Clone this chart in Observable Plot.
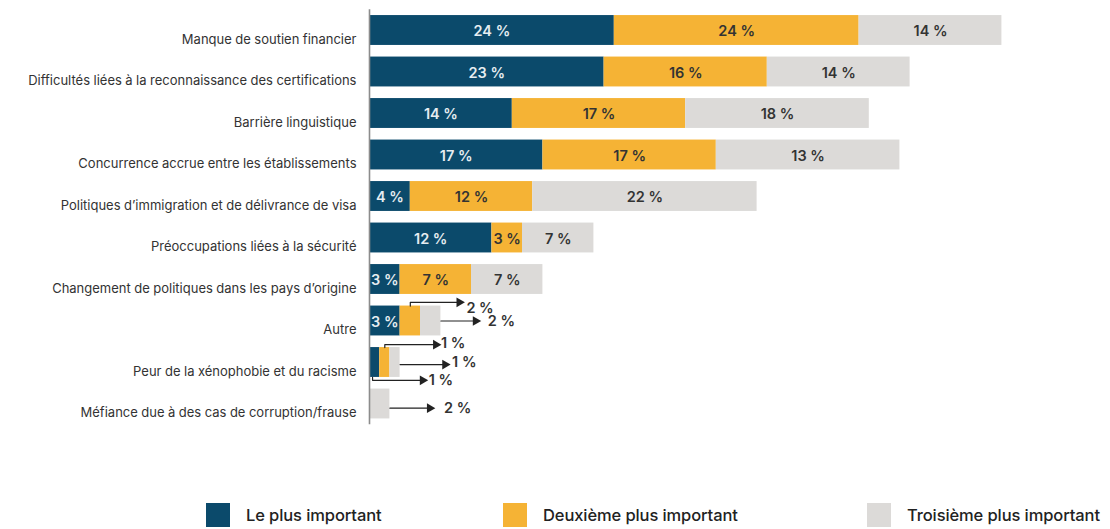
<!DOCTYPE html>
<html>
<head>
<meta charset="utf-8">
<script src="https://cdn.jsdelivr.net/npm/d3@7"></script>
<script src="https://cdn.jsdelivr.net/npm/@observablehq/plot@0.6"></script>
<style>
  html, body { margin: 0; padding: 0; background: #fff; }
  #wrap { position: relative; width: 1110px; height: 529px; overflow: hidden; font-family: Inter, "Noto Sans", sans-serif; }
  #legend { position: absolute; left: 0; top: 0; width: 1110px; height: 529px; pointer-events: none; }
  .item { position: absolute; top: 503px; height: 24px; display: flex; align-items: center; }
  .sw { width: 24px; height: 24px; margin-right: 16px; }
  .lt { font-size: 16.5px; color: #222; font-weight: 500; letter-spacing: -0.1px; white-space: nowrap; }
</style>
</head>
<body>
<div id="wrap"><div id="chart"></div><div id="legend"></div></div>
<script>
const categories = [
  "Manque de soutien financier",
  "Difficultés liées à la reconnaissance des certifications",
  "Barrière linguistique",
  "Concurrence accrue entre les établissements",
  "Politiques d’immigration et de délivrance de visa",
  "Préoccupations liées à la sécurité",
  "Changement de politiques dans les pays d’origine",
  "Autre",
  "Peur de la xénophobie et du racisme",
  "Méfiance due à des cas de corruption/frause"
];
const seriesNames = ["Le plus important", "Deuxième plus important", "Troisième plus important"];
const seriesColors = ["#0b4a6b", "#f5b335", "#dcdad8"];
const labelColors = ["#e6edf1", "#333333", "#333333"];

// bar lengths as drawn (%)
const first  = [24, 23, 14, 17, 4, 12, 3, 3, 1, 0];
const second = [24, 16, 17, 17, 12, 3, 7, 2, 1, 0];
const third  = [14, 14, 18, 18, 22, 7, 7, 2, 1, 2];
// values as printed on the chart
const firstLabels  = [24, 23, 14, 17, 4, 12, 3, 3, 1, 0];
const secondLabels = [24, 16, 17, 17, 12, 3, 7, 2, 1, 0];
const thirdLabels  = [14, 14, 18, 13, 22, 7, 7, 2, 1, 2];

// callouts for small segments
const calloutRow    = [7, 7, 8, 8, 8, 9];
const calloutSeries = [1, 2, 1, 2, 0, 2];
const calloutFrom   = ["mid", "end", "mid", "end", "start", "end"];
const calloutLevel  = [-0.45, 0, -0.43, 0.05, 0.43, 0.1];
const calloutTip    = [9.1, 10.7, 6.8, 7.7, 5.5, 6.2];
const calloutLabelX = [9.5, 11.6, 7.0, 8.1, 5.8, 7.3];
const calloutLabelY = [-0.3, 0, -0.46, 0, 0.43, 0.1];

const allVals = [first, second, third];
const allLabels = [firstLabels, secondLabels, thirdLabels];
const half = 0.36;

const segs = [];
categories.forEach((c, i) => {
  let acc = 0;
  for (let s = 0; s < 3; s++) {
    const v = allVals[s][i];
    segs.push({cat: c, i, s, x1: acc, x2: acc + v, v, label: allLabels[s][i]});
    acc += v;
  }
});
const inside = segs.filter(d => d.v >= 3);

const leaders = [];
const heads = [];
const cLabels = [];
calloutRow.forEach((r, k) => {
  const seg = segs.find(d => d.i === r && d.s === calloutSeries[k]);
  const lvl = r + calloutLevel[k];
  let sx;
  if (calloutFrom[k] === "mid") sx = (seg.x1 + seg.x2) / 2;
  else if (calloutFrom[k] === "end") sx = seg.x2;
  else sx = seg.x1 + 0.3;
  if (calloutFrom[k] !== "end") {
    const edge = r + Math.sign(calloutLevel[k]) * half;
    leaders.push({k, x: sx, y: edge});
  }
  leaders.push({k, x: sx, y: lvl});
  leaders.push({k, x: calloutTip[k] - 0.3, y: lvl});
  heads.push({x: calloutTip[k], y: lvl});
  cLabels.push({x: calloutLabelX[k], y: r + calloutLabelY[k], text: seg.label + " %"});
});

const chart = Plot.plot({
  width: 1110,
  height: 490,
  x: {domain: [0, 70], range: [369, 369 + 714], axis: null},
  y: {domain: [0, 9], range: [30, 30 + 9 * 41.5], axis: null},
  style: {fontFamily: "Inter, 'Noto Sans', sans-serif", background: "#fff"},
  marks: [
    Plot.rectX(segs.filter(d => d.v > 0), {
      x1: "x1", x2: "x2", y1: d => d.i - half, y2: d => d.i + half,
      fill: d => seriesColors[d.s]
    }),
    Plot.ruleX([0], {y1: -0.5, y2: 9.5, stroke: "#8c8c8c", strokeWidth: 1.6}),
    Plot.axisY(d3.range(categories.length), {
      tickFormat: i => categories[i], tickSize: 0, tickPadding: 13, dy: 9,
      fontSize: 13, fill: "#333", anchor: "left", x: 0,
      style: {letterSpacing: "0.85px"}
    }),
    Plot.text(inside, {
      x: d => (d.x1 + d.x2) / 2, y: "i", dy: 1,
      text: d => d.label + " %",
      fill: d => labelColors[d.s], fontSize: 14.5, fontWeight: 600
    }),
    Plot.line(leaders, {x: "x", y: "y", z: "k", stroke: "#222", strokeWidth: 1.2}),
    Plot.dot(heads, {x: "x", y: "y", symbol: "triangle", rotate: 90, r: 3.6, fill: "#222", dx: -3}),
    Plot.text(cLabels, {
      x: "x", y: "y", text: "text", textAnchor: "start",
      fill: "#333", fontSize: 14.5, fontWeight: 600
    })
  ]
});
document.getElementById("chart").appendChild(chart);

const legendX = [206, 503, 867];
const legend = document.getElementById("legend");
seriesNames.forEach((n, s) => {
  const it = document.createElement("div");
  it.className = "item";
  it.style.left = legendX[s] + "px";
  it.innerHTML = `<div class="sw" style="background:${seriesColors[s]}"></div><div class="lt">${n}</div>`;
  legend.appendChild(it);
});
</script>
</body>
</html>
